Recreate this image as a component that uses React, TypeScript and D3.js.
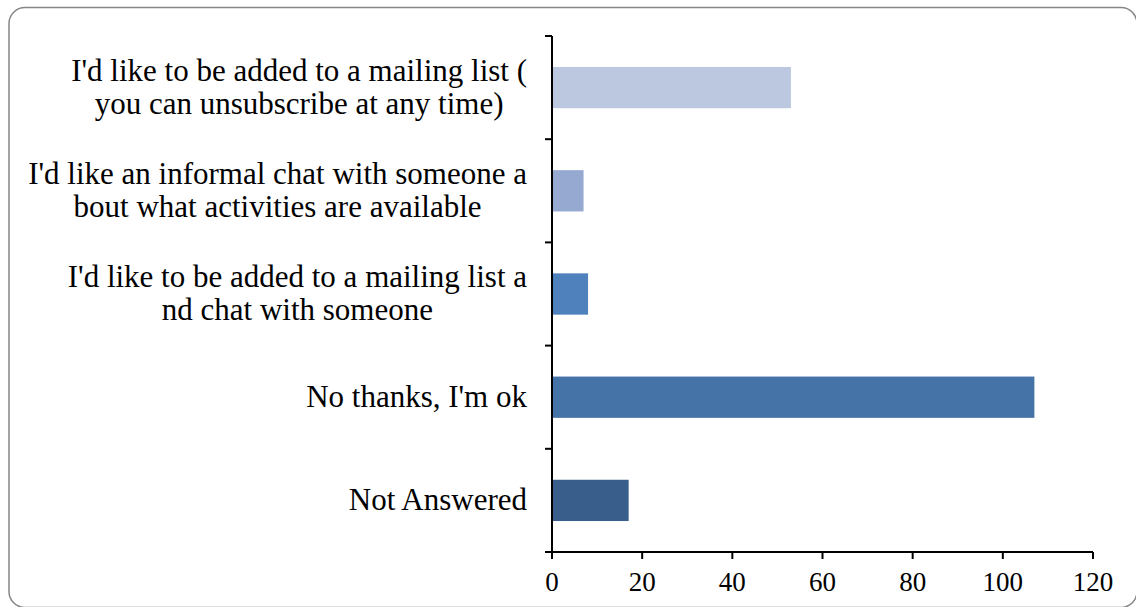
import React, { useEffect, useRef } from "react";
import * as d3 from "d3";

const categories: string[][] = [
  ["I'd like to be added to a mailing list (", "you can unsubscribe at any time)"],
  ["I'd like an informal chat with someone a", "bout what activities are available"],
  ["I'd like to be added to a mailing list a", "nd chat with someone"],
  ["No thanks, I'm ok"],
  ["Not Answered"],
];
const values: number[] = [53, 7, 8, 107, 17];
const colors: string[] = ["#BBC8E0", "#95A9D1", "#4F81BD", "#4573A7", "#3A5E8C"];
const xTicks: number[] = [0, 20, 40, 60, 80, 100, 120];

const W = 1136;
const H = 607;
const FONT = "'Liberation Serif', serif";

export default function App() {
  const ref = useRef<SVGSVGElement | null>(null);

  useEffect(() => {
    const svg = d3.select(ref.current);
    svg.selectAll("*").remove();

    svg
      .append("rect")
      .attr("x", 9)
      .attr("y", 7.5)
      .attr("width", 1128)
      .attr("height", 600)
      .attr("rx", 16)
      .attr("fill", "#fff")
      .attr("stroke", "#868686")
      .attr("stroke-width", 1.5);

    const left = 552;
    const right = 1093;
    const top = 36;
    const bottom = 552;

    const x = d3.scaleLinear().domain([0, 120]).range([left, right]);
    const y = d3
      .scaleBand<number>()
      .domain(d3.range(categories.length))
      .range([top, bottom])
      .paddingInner(0.6)
      .paddingOuter(0.3);
    const yb = d3.scaleBand<number>().domain(d3.range(categories.length)).range([top, bottom]);

    svg
      .append("g")
      .selectAll("rect")
      .data(values)
      .join("rect")
      .attr("x", x(0))
      .attr("y", (_, i) => y(i)!)
      .attr("width", (d) => x(d) - x(0))
      .attr("height", y.bandwidth())
      .attr("fill", (_, i) => colors[i]);

    // y axis
    const ya = svg.append("g").attr("stroke", "#000").attr("stroke-width", 2);
    ya.append("line").attr("x1", left).attr("x2", left).attr("y1", top).attr("y2", bottom);
    d3.range(categories.length + 1).forEach((i) => {
      const yy = top + i * yb.step();
      ya.append("line").attr("x1", left - 7).attr("x2", left).attr("y1", yy).attr("y2", yy);
    });

    // x axis
    const xa = svg.append("g").attr("stroke", "#000").attr("stroke-width", 2);
    xa.append("line").attr("x1", left - 7).attr("x2", right).attr("y1", bottom).attr("y2", bottom);
    xTicks.forEach((t) => {
      xa.append("line").attr("x1", x(t)).attr("x2", x(t)).attr("y1", bottom).attr("y2", bottom + 7);
    });

    svg
      .append("g")
      .selectAll("text")
      .data(xTicks)
      .join("text")
      .attr("x", (d) => x(d))
      .attr("y", bottom + 39)
      .attr("text-anchor", "middle")
      .attr("font-family", FONT)
      .attr("font-size", 27)
      .attr("fill", "#000")
      .text((d) => String(d));

    // category labels
    const labelRight = 527;
    const lineH = 33;
    categories.forEach((lines, i) => {
      const cy = (yb(i) as number) + yb.bandwidth() / 2;
      const g = svg.append("g");
      const texts = lines.map((ln, j) =>
        g
          .append("text")
          .attr("font-family", FONT)
          .attr("font-size", 31)
          .attr("fill", "#000")
          .attr("text-anchor", "middle")
          .attr("y", cy + (j - (lines.length - 1) / 2) * lineH + 9.5)
          .text(ln)
      );
      const maxW = d3.max(texts, (t) => (t.node() as SVGTextElement).getComputedTextLength()) || 0;
      texts.forEach((t) => t.attr("x", labelRight - maxW / 2));
    });
  }, []);

  return (
    <svg
      ref={ref}
      width={W}
      height={H}
      style={{ position: "absolute", left: 0, top: 0, background: "#fff" }}
    />
  );
}
